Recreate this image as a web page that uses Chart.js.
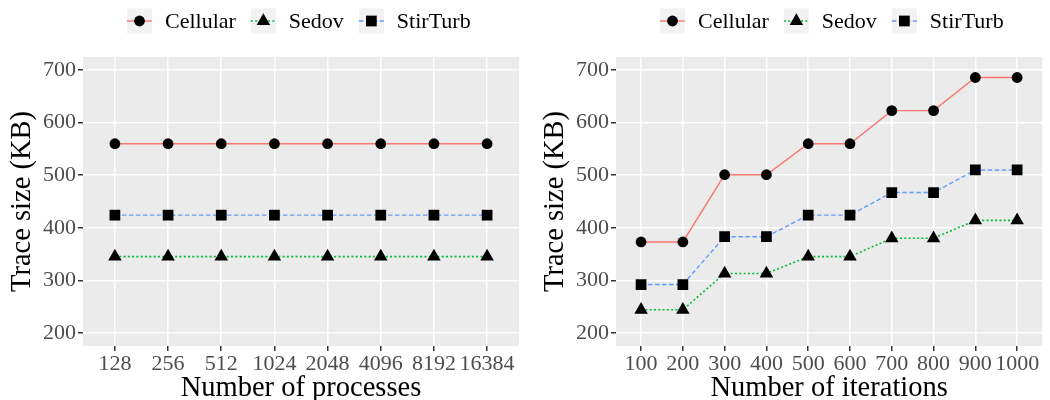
<!DOCTYPE html>
<html>
<head>
<meta charset="utf-8">
<script src="https://cdn.jsdelivr.net/npm/chart.js@4.4.1/dist/chart.umd.min.js"></script>
<style>
  html, body { margin: 0; padding: 0; background: #fff; }
  #wrap { position: relative; width: 1050px; height: 400px; }
  canvas { position: absolute; top: 0; }
  #procChart { left: 0; }
  #iterChart { left: 533px; }
</style>
</head>
<body>
<div id="wrap">
  <canvas id="procChart" width="533" height="400"></canvas>
  <canvas id="iterChart" width="517" height="400"></canvas>
</div>
<script>
// data
const processes = ['128', '256', '512', '1024', '2048', '4096', '8192', '16384'];
const cellularProc = [560, 560, 560, 560, 560, 560, 560, 560];
const sedovProc = [345, 345, 345, 345, 345, 345, 345, 345];
const stirTurbProc = [424, 424, 424, 424, 424, 424, 424, 424];

const iterations = ['100', '200', '300', '400', '500', '600', '700', '800', '900', '1000'];
const cellularIter = [373, 373, 501, 501, 560, 560, 623, 623, 686, 686];
const sedovIter = [244, 244, 313, 313, 345, 345, 380, 380, 414, 414];
const stirTurbIter = [292, 292, 383, 383, 424, 424, 467, 467, 510, 510];

const yTicks = [200, 300, 400, 500, 600, 700];
const seriesNames = ['Cellular', 'Sedov', 'StirTurb'];

const SERIF = '"Liberation Serif", "Times New Roman", serif';
const styles = [
  { color: '#F8766D', dash: [], shape: 'circle', radius: 5.4, width: 1.4 },
  { color: '#00BA38', dash: [2, 2.3], shape: 'triangle', radius: 7.8, width: 1.6 },
  { color: '#619CFF', dash: [4.5, 2.5], shape: 'rect', radius: 7.6, width: 1.4 }
];

const panelBg = {
  id: 'panelBg',
  beforeDraw(chart) {
    const a = chart.chartArea, c = chart.ctx;
    c.save();
    c.fillStyle = '#EBEBEB';
    c.fillRect(a.left, a.top, a.right - a.left, a.bottom - a.top);
    c.restore();
  }
};

const ggLegend = {
  id: 'ggLegend',
  afterDraw(chart) {
    const c = chart.ctx;
    const cy = 21;
    let x = chart.chartArea.left + 44;
    c.save();
    c.font = '22px ' + SERIF;
    c.textBaseline = 'middle';
    seriesNames.forEach((name, i) => {
      const s = styles[i];
      c.fillStyle = '#F2F2F2';
      c.fillRect(x, cy - 12.5, 25, 25);
      c.strokeStyle = s.color;
      c.lineWidth = s.width;
      c.setLineDash(s.dash);
      c.beginPath();
      c.moveTo(x, cy);
      c.lineTo(x + 25, cy);
      c.stroke();
      c.setLineDash([]);
      c.fillStyle = '#000';
      Chart.helpers.drawPoint(c, { pointStyle: s.shape, radius: s.radius, borderWidth: 0, rotation: 0 }, x + 12.5, cy);
      c.fillStyle = '#000';
      c.fillText(name, x + 38, cy + 1);
      x += 38 + c.measureText(name).width + 15;
    });
    c.restore();
  }
};

function makeChart(id, labels, series, xTitle, rightPad) {
  const datasets = series.map((vals, i) => ({
    label: seriesNames[i],
    data: vals.map((v, j) => ({ x: j, y: v })),
    borderColor: styles[i].color,
    borderWidth: styles[i].width,
    borderDash: styles[i].dash,
    pointStyle: styles[i].shape,
    pointRadius: styles[i].radius,
    pointBackgroundColor: '#000',
    pointBorderWidth: 0,
    tension: 0,
    fill: false
  }));

  return new Chart(document.getElementById(id), {
    type: 'line',
    data: { datasets },
    plugins: [panelBg, ggLegend],
    options: {
      responsive: false,
      animation: false,
      events: [],
      layout: { padding: { top: 57, right: rightPad, left: 0, bottom: 0 } },
      plugins: { legend: { display: false }, tooltip: { enabled: false } },
      scales: {
        x: {
          type: 'linear',
          min: -0.6,
          max: labels.length - 0.4,
          afterBuildTicks: (scale) => { scale.ticks = labels.map((_, j) => ({ value: j })); },
          afterFit: (scale) => { scale.height = 54; },
          border: { display: false },
          grid: { color: '#FFFFFF', lineWidth: 1.5, tickColor: '#333333', tickLength: 5 },
          ticks: {
            autoSkip: false, maxRotation: 0, padding: 0,
            color: '#4D4D4D', font: { family: SERIF, size: 22 },
            callback: (v) => labels[Math.round(v)]
          },
          title: {
            display: true, text: xTitle, color: '#000',
            font: { family: SERIF, size: 28.5 }, padding: { top: 0, bottom: -6 }
          }
        },
        y: {
          min: 175,
          max: 725,
          afterBuildTicks: (scale) => {
            const t = [];
            yTicks.forEach((v, k) => {
              t.push({ value: v });
              if (k < yTicks.length - 1) t.push({ value: (v + yTicks[k + 1]) / 2 });
            });
            scale.ticks = t;
          },
          afterFit: (scale) => { scale.width = 83; },
          border: { display: false },
          grid: {
            color: '#FFFFFF',
            lineWidth: (ctx) => (yTicks.includes(ctx.tick.value) ? 1.5 : 0.75),
            tickColor: (ctx) => (yTicks.includes(ctx.tick.value) ? '#333333' : 'rgba(0,0,0,0)'),
            tickLength: 5
          },
          ticks: {
            padding: 2,
            color: '#4D4D4D', font: { family: SERIF, size: 22 },
            callback: (v) => (yTicks.includes(v) ? String(v) : '')
          },
          title: {
            display: true, text: 'Trace size (KB)', color: '#000',
            font: { family: SERIF, size: 28.5 }, padding: { top: 5, bottom: 0 }
          }
        }
      }
    }
  });
}

makeChart('procChart', processes, [cellularProc, sedovProc, stirTurbProc], 'Number of processes', 14);
makeChart('iterChart', iterations, [cellularIter, sedovIter, stirTurbIter], 'Number of iterations', 6);
</script>
</body>
</html>
